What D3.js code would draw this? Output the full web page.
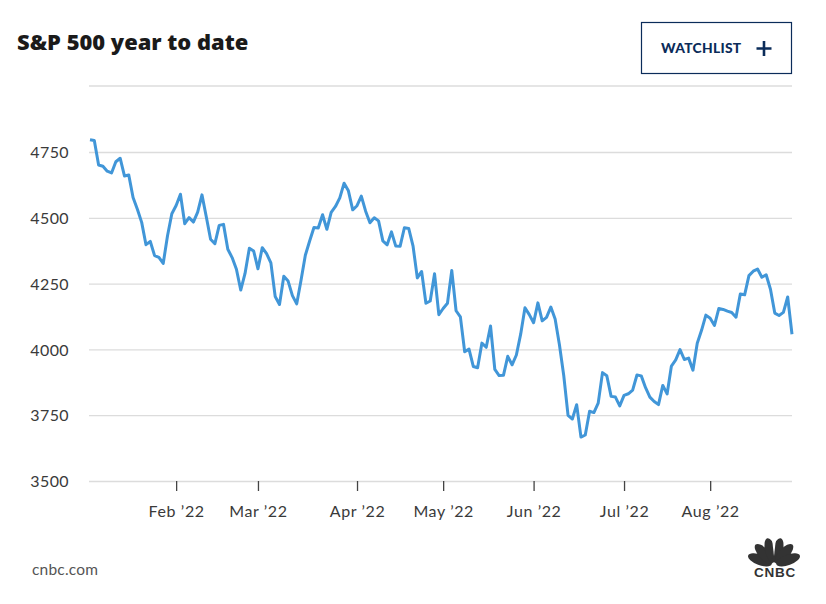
<!DOCTYPE html>
<html><head><meta charset="utf-8">
<script src="https://cdn.jsdelivr.net/npm/d3@7"></script>
<style>
body{margin:0;background:#fff;}
svg{display:block;}
</style></head>
<body><svg id="c" width="826" height="604"></svg>
<script>
const title = "S&P 500 year to date";
const dates = [
"2022-01-03","2022-01-04","2022-01-05","2022-01-06","2022-01-07","2022-01-10","2022-01-11","2022-01-12","2022-01-13","2022-01-14",
"2022-01-18","2022-01-19","2022-01-20","2022-01-21","2022-01-24","2022-01-25","2022-01-26","2022-01-27","2022-01-28","2022-01-31",
"2022-02-01","2022-02-02","2022-02-03","2022-02-04","2022-02-07","2022-02-08","2022-02-09","2022-02-10","2022-02-11","2022-02-14",
"2022-02-15","2022-02-16","2022-02-17","2022-02-18","2022-02-22","2022-02-23","2022-02-24","2022-02-25","2022-02-28",
"2022-03-01","2022-03-02","2022-03-03","2022-03-04","2022-03-07","2022-03-08","2022-03-09","2022-03-10","2022-03-11","2022-03-14",
"2022-03-15","2022-03-16","2022-03-17","2022-03-18","2022-03-21","2022-03-22","2022-03-23","2022-03-24","2022-03-25","2022-03-28",
"2022-03-29","2022-03-30","2022-03-31",
"2022-04-01","2022-04-04","2022-04-05","2022-04-06","2022-04-07","2022-04-08","2022-04-11","2022-04-12","2022-04-13","2022-04-14",
"2022-04-18","2022-04-19","2022-04-20","2022-04-21","2022-04-22","2022-04-25","2022-04-26","2022-04-27","2022-04-28","2022-04-29",
"2022-05-02","2022-05-03","2022-05-04","2022-05-05","2022-05-06","2022-05-09","2022-05-10","2022-05-11","2022-05-12","2022-05-13",
"2022-05-16","2022-05-17","2022-05-18","2022-05-19","2022-05-20","2022-05-23","2022-05-24","2022-05-25","2022-05-26","2022-05-27",
"2022-05-31",
"2022-06-01","2022-06-02","2022-06-03","2022-06-06","2022-06-07","2022-06-08","2022-06-09","2022-06-10","2022-06-13","2022-06-14",
"2022-06-15","2022-06-16","2022-06-17","2022-06-21","2022-06-22","2022-06-23","2022-06-24","2022-06-27","2022-06-28","2022-06-29",
"2022-06-30",
"2022-07-01","2022-07-05","2022-07-06","2022-07-07","2022-07-08","2022-07-11","2022-07-12","2022-07-13","2022-07-14","2022-07-15",
"2022-07-18","2022-07-19","2022-07-20","2022-07-21","2022-07-22","2022-07-25","2022-07-26","2022-07-27","2022-07-28","2022-07-29",
"2022-08-01","2022-08-02","2022-08-03","2022-08-04","2022-08-05","2022-08-08","2022-08-09","2022-08-10","2022-08-11","2022-08-12",
"2022-08-15","2022-08-16","2022-08-17","2022-08-18","2022-08-19","2022-08-22","2022-08-23","2022-08-24","2022-08-25","2022-08-26"
];
const closes = [
4796.56,4793.54,4700.58,4696.05,4677.03,4670.29,4713.07,4726.35,4659.03,4662.85,
4577.11,4532.76,4482.73,4397.94,4410.13,4356.45,4349.93,4326.51,4431.85,4515.55,
4546.54,4589.38,4477.44,4500.53,4483.87,4521.54,4587.18,4504.08,4418.64,4401.67,
4471.07,4475.01,4380.26,4348.87,4304.76,4225.50,4288.70,4384.65,4373.94,
4306.26,4386.54,4363.49,4328.87,4201.09,4170.70,4277.88,4259.52,4204.31,4173.11,
4262.45,4357.86,4411.67,4463.12,4461.18,4511.61,4456.24,4520.16,4543.06,4575.52,
4631.60,4602.45,4530.41,
4545.86,4582.64,4525.12,4481.15,4500.21,4488.28,4412.53,4397.45,4446.59,4392.59,
4391.69,4462.21,4459.45,4393.66,4271.78,4296.12,4175.20,4183.96,4287.50,4131.93,
4155.38,4175.48,4300.17,4146.87,4123.34,3991.24,4001.05,3935.18,3930.08,4023.89,
4008.01,4088.85,3923.68,3900.79,3901.36,3973.75,3941.48,3978.73,4057.84,4158.24,
4132.15,
4101.23,4176.82,4108.54,4121.43,4160.68,4115.77,4017.82,3900.86,3749.63,3735.48,
3789.99,3666.77,3674.84,3764.79,3759.89,3795.73,3911.74,3900.11,3821.55,3818.83,
3785.38,
3825.33,3831.39,3845.08,3902.62,3899.38,3854.43,3818.80,3801.78,3790.38,3863.16,
3830.85,3936.69,3959.90,3998.95,3961.63,3966.84,3921.05,4023.61,4072.43,4130.29,
4118.63,4091.19,4155.17,4151.94,4145.19,4140.06,4122.47,4210.24,4207.27,4280.15,
4297.14,4305.20,4274.04,4283.74,4228.48,4137.99,4128.73,4140.77,4199.12,4057.66
];
const yTicks = [3500,3750,4000,4250,4500,4750];
const monthTicks = ["2022-02-01","2022-03-01","2022-04-01","2022-05-02","2022-06-01","2022-07-01","2022-08-01"];
const monthLabels = ["Feb \u201922","Mar \u201922","Apr \u201922","May \u201922","Jun \u201922","Jul \u201922","Aug \u201922"];

const svg = d3.select("#c");
const pLeft = 90, pRight = 792, pTop = 86, pBottom = 481, y4750 = 152;
const x = d3.scalePoint().domain(dates).range([pLeft, pRight]);
const y = d3.scaleLinear()
  .domain([3500, 3500 + (pBottom - pTop) / (pBottom - y4750) * 1250])
  .range([pBottom, pTop]);
const font = "Lato, 'Open Sans', sans-serif";

// title
svg.append("text").attr("x", 17).attr("y", 50).text(title)
  .attr("font-family", "'Open Sans', sans-serif").attr("font-weight", 800)
  .attr("font-size", 21.9).attr("fill", "#1a1a1a");

// watchlist button
svg.append("rect").attr("x", 641.5).attr("y", 22.5).attr("width", 150).attr("height", 51)
  .attr("fill", "#fff").attr("stroke", "#0b2c5a").attr("stroke-width", 1.2);
svg.append("text").attr("x", 661).attr("y", 53).text("WATCHLIST")
  .attr("font-family", font).attr("font-weight", 900).attr("letter-spacing", 0.3)
  .attr("font-size", 13.8).attr("fill", "#0b2c5a");
svg.append("path").attr("d", "M756.5,48.5H771.5M764,41V56").attr("stroke", "#0b2c5a").attr("stroke-width", 2.6);

// top line
svg.append("line").attr("x1", pLeft - 1).attr("x2", pRight).attr("y1", pTop).attr("y2", pTop)
  .attr("stroke", "#dcdcdc").attr("stroke-width", 1.3);

// y gridlines & labels
const gy = svg.append("g").attr("transform", `translate(${pLeft - 1},0)`)
  .call(d3.axisLeft(y).tickValues(yTicks).tickSize(-(pRight - pLeft + 1)).tickPadding(20).tickFormat(d3.format("d")));
gy.select(".domain").remove();
gy.selectAll(".tick line").attr("stroke", "#dcdcdc").attr("stroke-width", 1.3);
gy.selectAll(".tick text").attr("font-family", font).attr("font-size", 16).attr("letter-spacing", 0.4)
  .attr("fill", "#3a3a3a").attr("dy", "0.35em");

// x axis
const gx = svg.append("g").attr("transform", `translate(0,${pBottom})`)
  .call(d3.axisBottom(x).tickValues(monthTicks).tickSize(10).tickPadding(15)
    .tickFormat(d => monthLabels[monthTicks.indexOf(d)]));
gx.select(".domain").remove();
gx.selectAll(".tick line").attr("stroke", "#444").attr("stroke-width", 1.3);
gx.selectAll(".tick text").attr("font-family", font).attr("font-size", 16).attr("letter-spacing", 0.6)
  .attr("fill", "#3a3a3a");

// line
const line = d3.line().x((d, i) => x(dates[i])).y(d => y(d)).curve(d3.curveLinear);
svg.append("path").datum(closes).attr("d", line).attr("fill", "none")
  .attr("stroke", "#4196d8").attr("stroke-width", 3).attr("stroke-linejoin", "round");

// footer
svg.append("text").attr("x", 32).attr("y", 575).text("cnbc.com")
  .attr("font-family", font).attr("font-size", 15.5).attr("letter-spacing", 0.2).attr("fill", "#555");

// CNBC peacock logo
const logo = svg.append("g").attr("transform", "translate(774,565)").attr("fill", "#333");
const angles = [-70, -42, -14, 14, 42, 70];
angles.forEach(a => {
  logo.append("ellipse").attr("cx", 0).attr("cy", -15).attr("rx", 5.3).attr("ry", 12.5)
    .attr("transform", `rotate(${a})`);
});
logo.append("path").attr("d", "M-2.2,-28L0,-9L2.2,-28Z").attr("fill", "#fff");
svg.append("text").attr("x", 775).attr("y", 577).attr("text-anchor", "middle").text("CNBC")
  .attr("font-family", "'Liberation Sans', Arial, sans-serif").attr("font-weight", 900)
  .attr("font-size", 13.5).attr("letter-spacing", 0.8).attr("fill", "#333");
</script></body></html>
